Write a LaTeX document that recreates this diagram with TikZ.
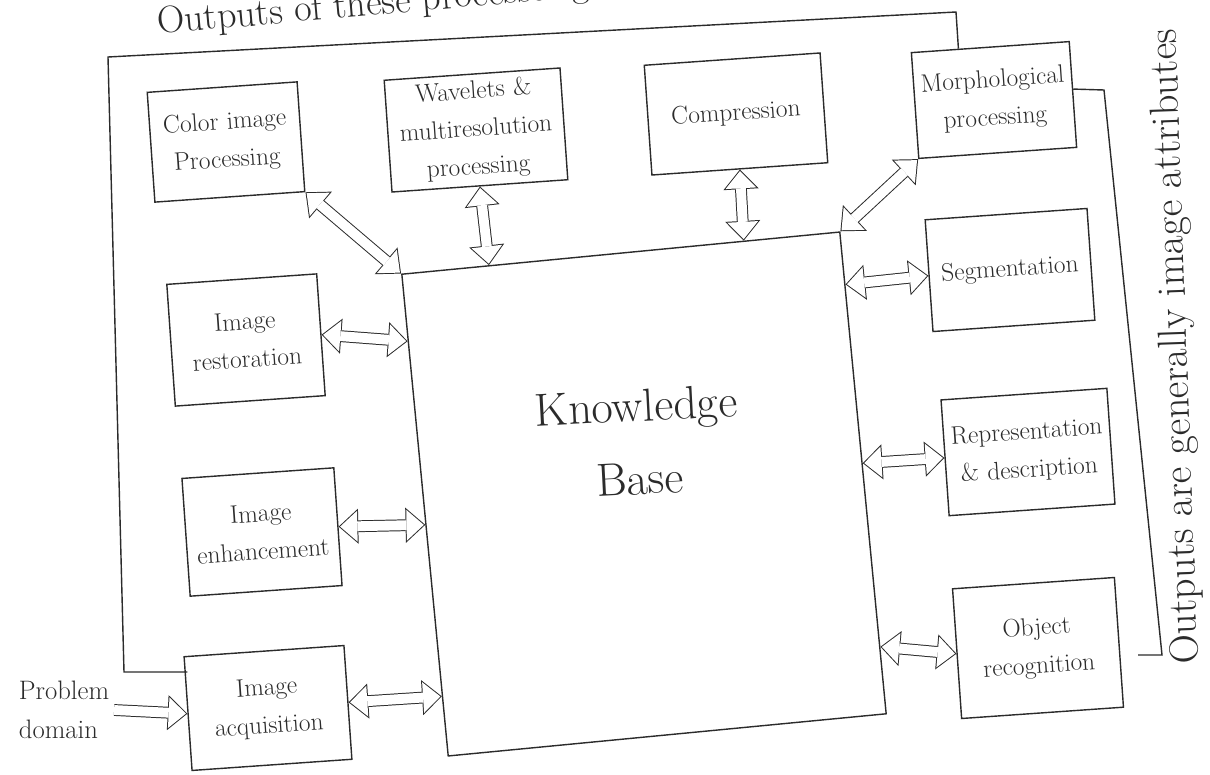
\documentclass[tikz,border=0pt]{standalone}
\usepackage{tikz}
\usetikzlibrary{arrows.meta, positioning, calc}
\definecolor{ink}{HTML}{2B2B2B}

\tikzset{
    procbox/.style={draw=ink, line width=1pt, rotate=4, align=center, inner sep=1.5pt, text=ink, font=\fontsize{18}{27}\selectfont},
    bigtip/.tip={Triangle[length=14pt, width=25pt, line width=0pt]},
    holetip/.tip={Triangle[length=12.25pt, width=21.9pt, line width=0pt]},
    twoway/.style={draw=ink, line width=8.4pt, {bigtip}-{bigtip},
        postaction={draw=white, line width=7pt, shorten <=1.05pt, shorten >=1.05pt, {holetip}-{holetip}}},
    oneway/.style={draw=ink, line width=8.4pt, -{bigtip},
        postaction={draw=white, line width=7pt, shorten >=1.05pt, -{holetip}}},
    fbline/.style={draw=ink, line width=1pt},
}

\begin{document}
\begin{tikzpicture}
        \useasboundingbox (0,0) rectangle (30.25,-19.375);
        \clip (0,0) rectangle (30.25,-19.375);
        % \fill[white] (0,0) rectangle (30.25,-19.375);
        \node[procbox, text width=3.65cm, minimum height=2.75cm] (color) at (5.65,-3.55) {Color image\\Processing};
        \node[procbox, text width=4.3cm, minimum height=2.8cm] (wave) at (11.9,-3.25) {Wavelets \&\\multiresolution\\processing};
        \node[procbox, text width=4.3cm, minimum height=2.75cm] (comp) at (18.4,-2.85) {Compression};
        \node[procbox, text width=3.85cm, minimum height=2.65cm] (morph) at (24.85,-2.5) {Morphological\\processing};

        \node[procbox, text width=3.65cm, minimum height=3.05cm] (rest) at (6.15,-8.5) {Image\\restoration};
        \node[procbox, text width=3.7cm, minimum height=2.95cm] (enh) at (6.55,-13.3) {Image\\enhancement};
        \node[procbox, text width=3.9cm, minimum height=2.85cm] (acq) at (6.7,-17.7) {Image\\acquisition};

        \node[procbox, text width=3.95cm, minimum height=2.8cm] (seg) at (25.25,-6.75) {Segmentation};
        \node[procbox, text width=4.05cm, minimum height=2.9cm] (rep) at (25.7,-11.3) {Representation\\\& description};
        \node[procbox, text width=3.95cm, minimum height=3.25cm] (obj) at (25.95,-16.2) {Object\\recognition};

        \node[draw=ink, line width=1pt, rotate=5.5, minimum width=11cm, minimum height=12.1cm] (kb) at (16.1,-12.35) {};
        \node[text=ink, align=center, rotate=3, font=\fontsize{33}{52}\selectfont] (kbtext) at (15.95,-11.05) {Knowledge\\Base};

        \node[text=ink, align=left, font=\fontsize{19}{28}\selectfont] (prob) at (1.6,-17.75) {Problem\\domain};

        \node[text=ink, rotate=5, anchor=base west, inner sep=0pt, font=\fontsize{27}{32}\selectfont] (outimg) at (3.95,-0.85) {Outputs of these processes generally are images};
        \node[text=ink, rotate=92, anchor=base west, inner sep=0pt, font=\fontsize{29}{34}\selectfont] (outattr) at (29.95,-16.6) {Outputs are generally image attributes};

        % feedback of image outputs
        \coordinate (mtop) at ($(morph.north west)!0.3!(morph.north east)$);
        \coordinate (fbtop) at (23.9,-0.3);
        \coordinate (fbcorner) at (2.7,-1.425);
        \coordinate (fbbottom) at (3.1,-16.8);
        \draw[fbline] (mtop) -- (fbtop) -- (fbcorner) -- (fbbottom) -- (fbbottom -| acq.west);

        \coordinate (brtop) at (27.6,-2.25);
        \coordinate (brbot) at (29.05,-16.375);
        \coordinate (brend) at (28.45,-16.375);
        \draw[fbline] ($(morph.north east)!0.45!(morph.south east)$) -- (brtop) -- (brbot) -- (brend);

        \draw[twoway] (color.south east) -- (kb.north west);
        \draw[twoway] (wave.south) -- ($(kb.north west)!0.2!(kb.north east)$);
        \draw[twoway] (comp.south) -- ($(kb.north west)!0.78!(kb.north east)$);
        \draw[twoway] (morph.south west) -- (kb.north east);
        \draw[twoway] (rest.east) -- ($(kb.north west)!0.14!(kb.south west)$);
        \draw[twoway] (enh.east) -- ($(kb.north west)!0.52!(kb.south west)$);
        \draw[twoway] (acq.east) -- ($(kb.north west)!0.875!(kb.south west)$);
        \draw[twoway] ($(kb.north east)!0.11!(kb.south east)$) -- (seg.west);
        \draw[twoway] ($(kb.north east)!0.48!(kb.south east)$) -- (rep.west);
        \draw[twoway] ($(kb.north east)!0.86!(kb.south east)$) -- (obj.west);
        \draw[oneway] (prob.east) -- (acq.west);
    \end{tikzpicture}
\end{document}
